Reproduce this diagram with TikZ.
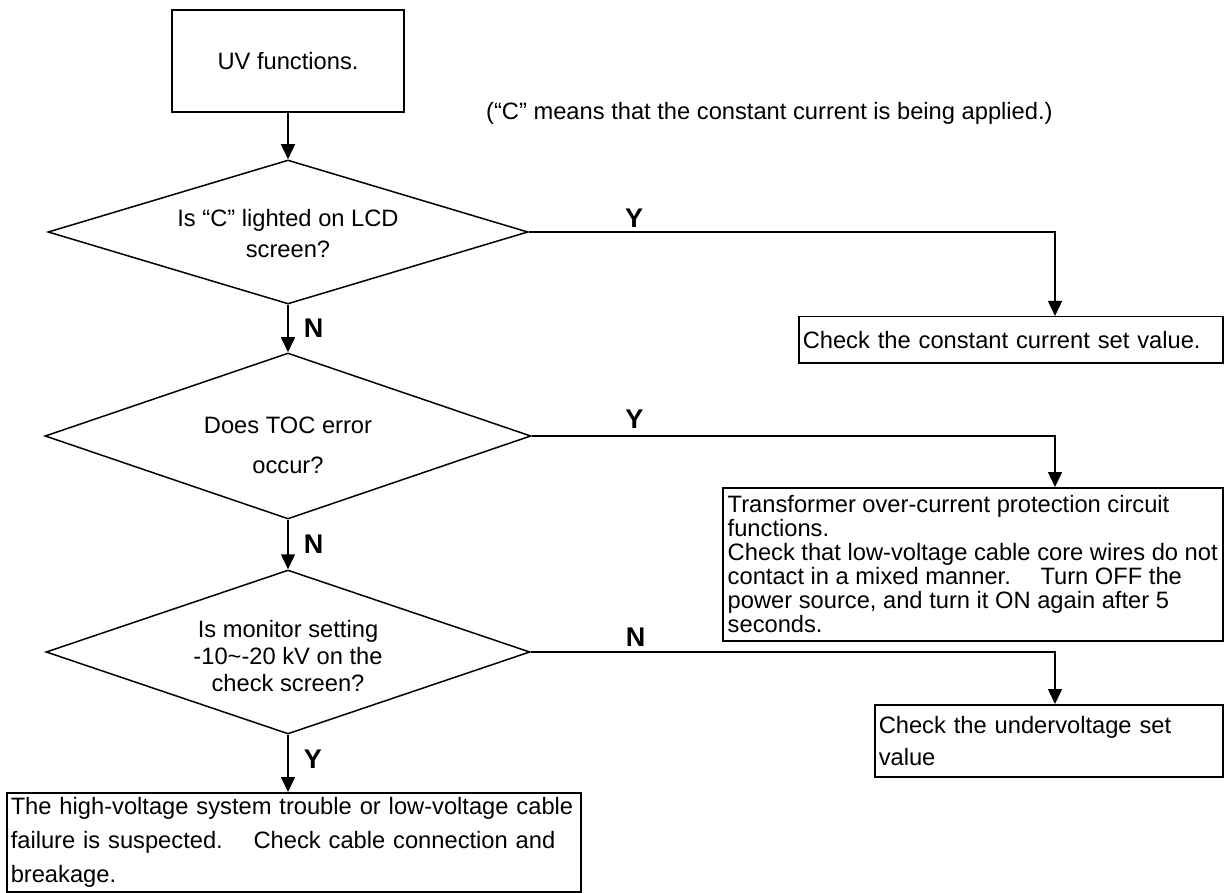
\documentclass[tikz,border=0pt]{standalone}
\usepackage{fontspec}
\setmainfont{Liberation Sans}
\usetikzlibrary{shapes.geometric,arrows.meta,calc}
\tikzset{
  txt/.style={font=\fontsize{23.7}{24}\selectfont},
  box/.style={draw, line width=1.5pt, inner xsep=4pt, inner ysep=0pt, align=left, anchor=north west, txt},
  decision/.style={draw, shape=diamond, line width=1.5pt, inner sep=0pt},
  flow/.style={line width=1.5pt, -{Triangle[length=15pt,width=14pt]}},
  yn/.style={font=\fontsize{27}{27}\selectfont\bfseries, inner sep=0pt},
}
\begin{document}
\begin{tikzpicture}[x=1pt,y=-1pt]
\useasboundingbox (0,0) rectangle (1229,893);

% start box and remark
\node[draw, line width=1.5pt, minimum width=232pt, minimum height=102pt, txt] (uv) at (288,61) {UV functions.};
\node[txt, anchor=west, inner sep=0pt] (note) at (486,113) {(“C” means that the constant current is being applied.)};

% decisions
\node[decision, minimum width=480pt, minimum height=144pt] (d1) at (288,232) {};
\node[align=center, font=\fontsize{23.7}{31}\selectfont] (q1) at (288,234) {Is “C” lighted on LCD\\screen?};

\node[decision, minimum width=486pt, minimum height=166pt] (d2) at (288,436) {};
\node[align=center, font=\fontsize{23.7}{40}\selectfont] (q2) at (288,445) {Does TOC error\\occur?};

\node[decision, minimum width=484pt, minimum height=164pt] (d3) at (288,652) {};
\node[align=center, font=\fontsize{23.7}{27}\selectfont] (q3) at (288,656) {Is monitor setting\\-10\textasciitilde-20 kV on the\\check screen?};

% result boxes
\node[box, minimum width=424pt, minimum height=46pt, text width=416pt] (b1) at (798,316) {Check the constant current set value.};

\node[box, inner xsep=2pt, minimum width=500pt, minimum height=153pt] (b2) at (722,487)
  {Transformer over-current protection circuit\\functions.\\Check that low-voltage cable core wires do not\\contact in a mixed manner.\hspace{1.25em}Turn OFF the\\power source, and turn it ON again after 5\\seconds.};

\node[box, font=\fontsize{23.7}{32}\selectfont, minimum width=348pt, minimum height=72pt, text width=340pt] (b3) at (874,704)
  {Check the undervoltage set\\value};

\node[box, font=\fontsize{23.7}{34}\selectfont, minimum width=574pt, minimum height=99pt, text width=566pt] (b4) at (6,792)
  {The high-voltage system trouble or low-voltage cable\\failure is suspected.\hspace{1.3em}Check cable connection and\\breakage.};

% right-hand branch column
\coordinate (j) at (1055,0);

% connectors
\draw[flow] (uv.south) -- (d1.north);
\draw[flow] (d1.south) -- node[yn, right=15pt] (n1) {N} (d2.north);
\draw[flow] (d2.south) -- node[yn, right=15pt] (n2) {N} (d3.north);
\draw[flow] (d3.south) -- node[yn, right=15pt, pos=0.42] (y3) {Y} (d3.south |- b4.north);

\draw[flow] (d1.east) -| node[yn, pos=0.1, above=4pt] (y1) {Y} (j |- b1.north);
\draw[flow] (d2.east) -| node[yn, pos=0.098, above=7pt] (y2) {Y} (j |- b2.north);
\draw[flow] (d3.east) -| node[yn, pos=0.1, above=5pt] (n3) {N} (j |- b3.north);
\end{tikzpicture}
\end{document}
